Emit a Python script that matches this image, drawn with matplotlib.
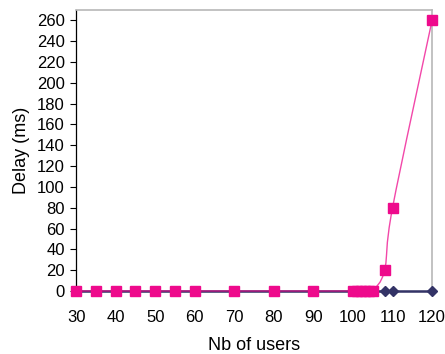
import numpy as np
import matplotlib
matplotlib.use("Agg")
import matplotlib.pyplot as plt
from matplotlib.path import Path
from matplotlib.patches import PathPatch

plt.rcParams['font.family'] = ['Liberation Sans', 'DejaVu Sans']

# data
users = [30, 35, 40, 45, 50, 55, 60, 70, 80, 90, 100, 101, 102, 103, 104, 105, 108, 110, 120]
delay_pink = [0, 0, 0, 0, 0, 0, 0, 0, 0, 0, 0, 0, 0, 0, 0, 0, 20, 80, 260]
delay_navy = [0] * len(users)

y_ticks = list(range(0, 261, 20))
x_ticks = list(range(30, 121, 10))

pink = '#ee0a8c'
navy = '#333366'


def smooth_path(xs, ys):
    # Excel-like smoothed line (Catmull-Rom as cubic Bezier)
    pts = np.column_stack([xs, ys]).astype(float)
    verts = [pts[0]]
    codes = [Path.MOVETO]
    n = len(pts)
    for i in range(n - 1):
        p0 = pts[max(i - 1, 0)]
        p1 = pts[i]
        p2 = pts[i + 1]
        p3 = pts[min(i + 2, n - 1)]
        c1 = p1 + (p2 - p0) / 6.0
        c2 = p2 - (p3 - p1) / 6.0
        verts += [c1, c2, p2]
        codes += [Path.CURVE4] * 3
    return Path(verts, codes)


fig = plt.figure(figsize=(4.45, 3.54), dpi=100)
ax = fig.add_axes([0.171, 0.178, 0.80, 0.794])

ax.plot(users, delay_navy, color=navy, lw=1.8, marker='D', ms=4.6,
        mfc=navy, mec=navy, clip_on=False, zorder=3)
ax.add_patch(PathPatch(smooth_path(users, delay_pink), fill=False,
                       ec=pink, lw=1.0, alpha=0.75, zorder=4, clip_on=False))
ax.plot(users, delay_pink, ls='none', marker='s', ms=7.2,
        mfc=pink, mec=pink, clip_on=False, zorder=5)

ax.set_xlim(30, 120)
ax.set_ylim(0, 270)
ax.set_yticks(y_ticks)
ax.set_xticks(x_ticks)
ax.tick_params(axis='y', direction='out', length=4, width=0.8, labelsize=12, pad=4)
ax.tick_params(axis='x', length=0, labelsize=12, pad=14)

for side in ['top', 'right']:
    ax.spines[side].set_color('#b8b8b8')
    ax.spines[side].set_linewidth(1.2)
ax.spines['left'].set_color('black')
ax.spines['left'].set_linewidth(0.9)
ax.spines['bottom'].set_color(navy)
ax.spines['bottom'].set_linewidth(0.8)

ax.set_xlabel('Nb of users', fontsize=13, labelpad=8)
ax.set_ylabel('Delay (ms)', fontsize=13, labelpad=5)

fig.savefig('out.png', dpi=100)
